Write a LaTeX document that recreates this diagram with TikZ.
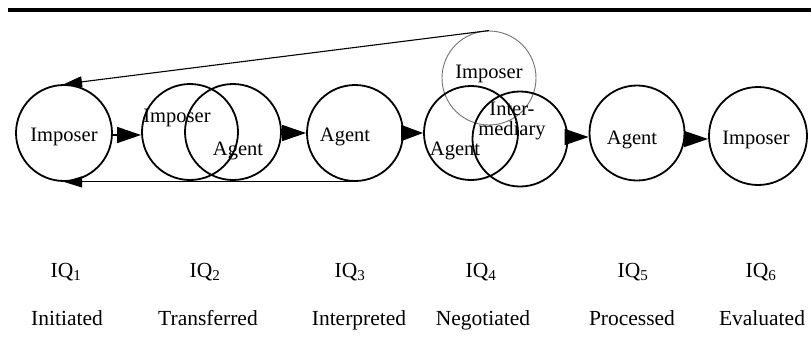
\documentclass[tikz,border=0pt]{standalone}
\usepackage{fontspec}
\setmainfont{Liberation Serif}
\usetikzlibrary{arrows.meta}
\tikzset{
  circ/.style={circle, draw=black, line width=1.8pt, minimum size=96pt, inner sep=0pt},
  lightcirc/.style={circle, draw=black!55, line width=0.9pt, minimum size=94pt, inner sep=0pt},
  txt/.style={inner sep=0pt, font=\fontsize{20.5}{22}\selectfont},
  lbl/.style={inner sep=0pt, text height=15pt, text depth=5pt, font=\fontsize{21.5}{24}\selectfont},
  flow/.style={line width=1.5pt, -{Triangle[length=24pt,width=16pt]}},
  back/.style={line width=1.1pt, -{Triangle[length=18pt,width=11pt]}}
}
\begin{document}
\begin{tikzpicture}[x=1pt,y=-1pt]
\useasboundingbox (0,0) rectangle (811,349);
\draw[line width=3.5pt] (8,10) -- (811,10);
% circles
\node[circ] (c1) at (64,133) {};
\node[circ] (c2a) at (190,132) {};
\node[circ] (c2b) at (233,132) {};
\node[circ] (c3) at (355,133) {};
\node[lightcirc] (c4i) at (489,78) {};
\node[circ, minimum size=94pt] (c4a) at (471,133) {};
\node[circ, minimum size=95pt] (c4b) at (520,139) {};
\node[circ, minimum size=95pt] (c5) at (637,133) {};
\node[circ, minimum size=98pt] (c6) at (758,136) {};
% texts
\node[txt] (t1) at (64,137) {Imposer};
\node[txt] (t2a) at (177,118) {Imposer};
\node[txt] (t2b) at (238,151) {Agent};
\node[txt] (t3) at (345,137) {Agent};
\node[txt] (t4i) at (489,74) {Imposer};
\node[txt] (t4a) at (455,151) {Agent};
\node[txt, align=center] (t4b) at (512,121) {Inter-\\[-2pt]mediary};
\node[txt] (t5) at (632,140) {Agent};
\node[txt] (t6) at (756,140) {Imposer};
% flow arrows
\draw[flow] (c1.east |- 0,135) -- (c2a.west |- 0,135);
\draw[flow] (c2b.east |- 0,133) -- (c3.west |- 0,133);
\draw[flow, -{Triangle[length=22pt,width=16pt]}] (c3.east |- 0,133) -- (c4a.west |- 0,133);
\draw[flow] (c4b.east |- 0,137) -- (c5.west |- 0,137);
\draw[flow] (c5.east |- 0,139) -- (c6.west |- 0,139);
% feedback
\draw[back] (c4i.north) -- (c1.north);
\draw[back] (c3.south) -- (c1.south);
% labels
\node[lbl] (q1) at (66,272) {IQ\textsubscript{1}};
\node[lbl] (q2) at (205,272) {IQ\textsubscript{2}};
\node[lbl] (q3) at (350,272) {IQ\textsubscript{3}};
\node[lbl] (q4) at (481,272) {IQ\textsubscript{4}};
\node[lbl] (q5) at (633,272) {IQ\textsubscript{5}};
\node[lbl] (q6) at (761,272) {IQ\textsubscript{6}};
\node[lbl] (s1) at (67,320) {Initiated};
\node[lbl] (s2) at (208,320) {Transferred};
\node[lbl] (s3) at (359,320) {Interpreted};
\node[lbl] (s4) at (483,320) {Negotiated};
\node[lbl] (s5) at (632,320) {Processed};
\node[lbl] (s6) at (762,320) {Evaluated};
\end{tikzpicture}
\end{document}
